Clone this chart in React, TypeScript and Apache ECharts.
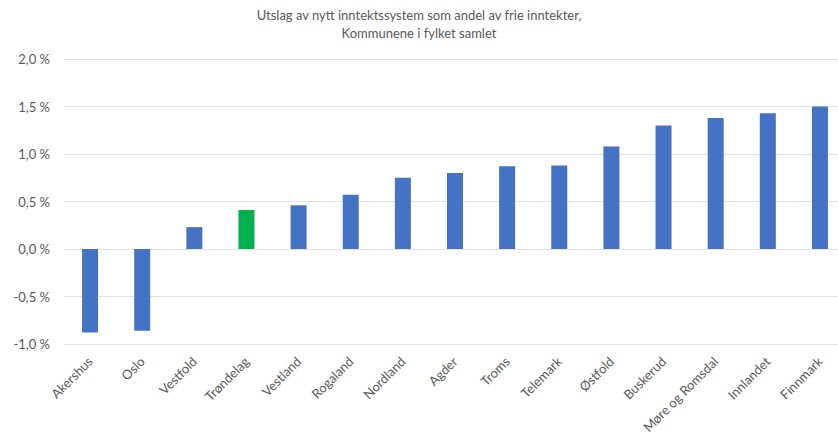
import React, { useEffect, useRef } from "react";
import * as echarts from "echarts";

const titleLines = ["Utslag av nytt inntektssystem som andel av frie inntekter,", "Kommunene i fylket samlet"];
const categories = ["Akershus", "Oslo", "Vestfold", "Trøndelag", "Vestland", "Rogaland", "Nordland", "Agder", "Troms", "Telemark", "Østfold", "Buskerud", "Møre og Romsdal", "Innlandet", "Finnmark"];
const values = [-0.88, -0.86, 0.23, 0.41, 0.46, 0.57, 0.75, 0.8, 0.87, 0.88, 1.08, 1.3, 1.38, 1.43, 1.5];
const highlight = "Trøndelag";
const yMin = -1;
const yMax = 2;
const yStep = 0.5;

const FONT = "Lato";
const TEXT = "#595959";

export default function App() {
  const ref = useRef<HTMLDivElement>(null);
  useEffect(() => {
    document.body.style.margin = "0";
    const chart = echarts.init(ref.current!, null, { renderer: "svg" });
    chart.setOption({
      animation: false,
      backgroundColor: "#ffffff",
      graphic: titleLines.map((t, i) => ({
        type: "text",
        x: 419,
        y: 15 + i * 18,
        style: {
          text: t,
          fill: TEXT,
          font: `13px ${FONT}`,
          textAlign: "center",
          textVerticalAlign: "middle",
        },
      })),
      grid: { left: 64, top: 59, width: 782, bottom: 94 },
      xAxis: {
        type: "category",
        data: categories,
        axisLine: { show: false, onZero: false },
        axisTick: { show: false },
        axisLabel: { rotate: 45, interval: 0, margin: 15, color: TEXT, fontFamily: FONT, fontSize: 13 },
      },
      yAxis: {
        type: "value",
        min: yMin,
        max: yMax,
        interval: yStep,
        axisLine: { show: false },
        axisTick: { show: false },
        splitLine: { lineStyle: { color: "#e3e3e3", width: 1 } },
        axisLabel: {
          margin: 14,
          color: TEXT,
          fontFamily: FONT,
          fontSize: 13,
          formatter: (v: number) => v.toFixed(1).replace(".", ",") + " %",
        },
      },
      series: [
        {
          type: "bar",
          barWidth: 16,
          data: values.map((v, i) => ({
            value: v,
            itemStyle: { color: categories[i] === highlight ? "#00B050" : "#4472C4" },
          })),
        },
      ],
    });
    return () => chart.dispose();
  }, []);
  return (
    <div style={{ width: 838, height: 438, overflow: "hidden", position: "relative" }}>
      <div ref={ref} style={{ width: 850, height: 438 }} />
    </div>
  );
}
